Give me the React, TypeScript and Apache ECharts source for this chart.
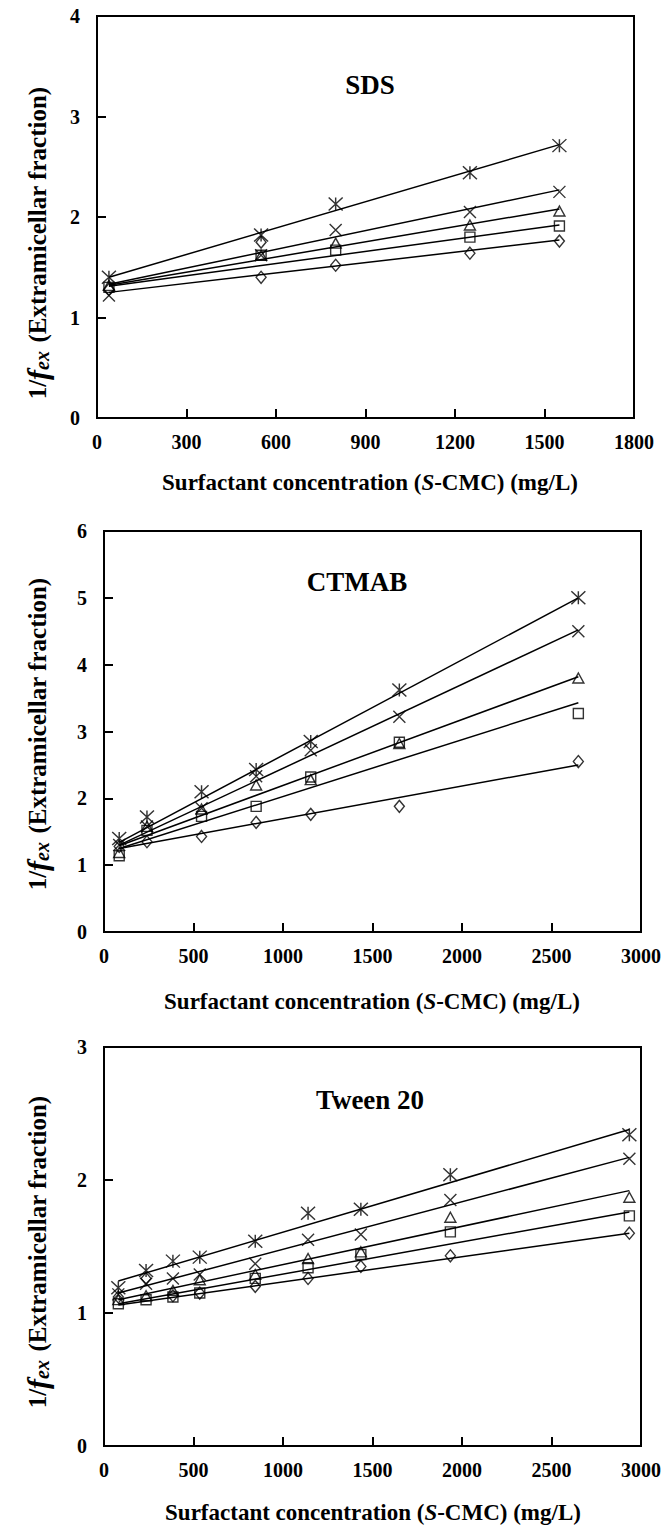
import React, { useEffect, useRef } from "react";
import * as echarts from "echarts";

// ---------- DATA ----------
// Panel 1: SDS
const sdsX = [40, 550, 800, 1250, 1550];
const sdsStar = [1.40, 1.82, 2.13, 2.44, 2.71];
const sdsCross = [1.22, 1.62, 1.87, 2.05, 2.25];
const sdsTri = [1.32, 1.62, 1.74, 1.92, 2.06];
const sdsSquare = [1.30, 1.62, 1.67, 1.80, 1.91];
const sdsDiamond = [1.28, 1.40, 1.52, 1.64, 1.76];
const sdsDiamondExtraX = [550];
const sdsDiamondExtraY = [1.75];
const sdsFitX = [40, 1550];
const sdsFitStar = [1.40, 2.72];
const sdsFitCross = [1.33, 2.27];
const sdsFitTri = [1.32, 2.08];
const sdsFitSquare = [1.31, 1.92];
const sdsFitDiamond = [1.25, 1.77];

// Panel 2: CTMAB
const ctX = [85, 240, 545, 850, 1155, 1650, 2650];
const ctStar = [1.40, 1.72, 2.10, 2.43, 2.85, 3.62, 5.00];
const ctCross = [1.30, 1.58, 1.85, 2.33, 2.72, 3.22, 4.50];
const ctTri = [1.19, 1.58, 1.84, 2.20, 2.28, 2.82, 3.80];
const ctSquare = [1.14, 1.52, 1.73, 1.88, 2.32, 2.84, 3.27];
const ctDiamond = [1.28, 1.35, 1.43, 1.64, 1.76, 1.88, 2.55];
const ctFitX = [85, 2650];
const ctFitStar = [1.34, 5.00];
const ctFitCross = [1.30, 4.52];
const ctFitTri = [1.29, 3.82];
const ctFitSquare = [1.25, 3.43];
const ctFitDiamond = [1.25, 2.50];

// Panel 3: Tween 20
const twX = [80, 235, 385, 535, 845, 1140, 1435, 1935, 2935];
const twStar = [1.19, 1.32, 1.39, 1.42, 1.54, 1.75, 1.78, 2.04, 2.34];
const twCross = [1.14, 1.22, 1.26, 1.29, 1.37, 1.55, 1.59, 1.85, 2.16];
const twTri = [1.10, 1.13, 1.17, 1.25, 1.29, 1.41, 1.46, 1.72, 1.87];
const twSquare = [1.07, 1.10, 1.12, 1.15, 1.26, 1.34, 1.44, 1.61, 1.73];
const twDiamond = [1.12, 1.26, 1.13, 1.15, 1.20, 1.26, 1.35, 1.43, 1.60];
const twFitX = [80, 2935];
const twFitStar = [1.24, 2.38];
const twFitCross = [1.15, 2.17];
const twFitTri = [1.10, 1.92];
const twFitSquare = [1.07, 1.76];
const twFitDiamond = [1.06, 1.60];

const panelTitles = ["SDS", "CTMAB", "Tween 20"];
const xMax = [1800, 3000, 3000];
const xInterval = [300, 500, 500];
const yMax = [4, 6, 3];

// ---------- STYLE ----------
const SERIF = "Liberation Serif, Times New Roman, serif";
const STAR = "path://M0,0L10,10M10,0L0,10M5,0L5,10";
const CROSS = "path://M0,0L10,10M10,0L0,10";
const TRI = "path://M5,0L10,10L0,10Z";
const SQUARE = "path://M0,0L10,0L10,10L0,10Z";
const DIAMOND = "path://M5,0L10,6L5,12L0,6Z";
const markerDefs = [
  { name: "star", symbol: STAR, size: [14, 13] },
  { name: "cross", symbol: CROSS, size: [12, 12] },
  { name: "triangle", symbol: TRI, size: [11, 10] },
  { name: "square", symbol: SQUARE, size: [10, 10] },
  { name: "diamond", symbol: DIAMOND, size: [10, 12] },
];

const grids = [
  { left: 97, top: 16, width: 537, height: 402 },
  { left: 104, top: 531, width: 537, height: 401 },
  { left: 104, top: 1047, width: 537, height: 399 },
];

const titlePos = [
  { x: 370, y: 85 },
  { x: 357, y: 582 },
  { x: 370, y: 1100 },
];
const xTitlePos = [
  { x: 370, y: 482 },
  { x: 372, y: 1001 },
  { x: 373, y: 1512 },
];
const yTitlePos = [
  { x: 37, y: 243 },
  { x: 37, y: 734 },
  { x: 37, y: 1252 },
];

function pairs(xs: number[], ys: number[]) {
  return xs.map((x, i) => [x, ys[i]]);
}

function buildPanel(
  idx: number,
  xs: number[],
  sets: number[][],
  fitX: number[],
  fits: number[][]
) {
  const series: any[] = [];
  fits.forEach((f, k) => {
    series.push({
      type: "line",
      name: `fit-${idx}-${markerDefs[k].name}`,
      xAxisIndex: idx,
      yAxisIndex: idx,
      data: pairs(fitX, f),
      showSymbol: false,
      symbol: "none",
      lineStyle: { color: "#000", width: 1.5 },
      z: 2,
      silent: true,
    });
  });
  sets.forEach((s, k) => {
    series.push({
      type: "scatter",
      name: `pts-${idx}-${markerDefs[k].name}`,
      xAxisIndex: idx,
      yAxisIndex: idx,
      data: pairs(xs, s),
      symbol: markerDefs[k].symbol,
      symbolSize: markerDefs[k].size,
      itemStyle: { color: "transparent", borderColor: "#000", borderWidth: 1.4 },
      z: 3,
    });
  });
  return series;
}

export default function App() {
  const ref = useRef<HTMLDivElement>(null);

  useEffect(() => {
    document.body.style.margin = "0";
    if (!ref.current) return;
    const chart = echarts.init(ref.current, undefined, { renderer: "svg" });

    const series: any[] = [
      ...buildPanel(
        0,
        sdsX,
        [sdsStar, sdsCross, sdsTri, sdsSquare, sdsDiamond],
        sdsFitX,
        [sdsFitStar, sdsFitCross, sdsFitTri, sdsFitSquare, sdsFitDiamond]
      ),
      {
        type: "scatter",
        name: "pts-0-diamond-extra",
        xAxisIndex: 0,
        yAxisIndex: 0,
        data: pairs(sdsDiamondExtraX, sdsDiamondExtraY),
        symbol: DIAMOND,
        symbolSize: [10, 12],
        itemStyle: { color: "transparent", borderColor: "#000", borderWidth: 1.4 },
        z: 3,
      },
      ...buildPanel(
        1,
        ctX,
        [ctStar, ctCross, ctTri, ctSquare, ctDiamond],
        ctFitX,
        [ctFitStar, ctFitCross, ctFitTri, ctFitSquare, ctFitDiamond]
      ),
      ...buildPanel(
        2,
        twX,
        [twStar, twCross, twTri, twSquare, twDiamond],
        twFitX,
        [twFitStar, twFitCross, twFitTri, twFitSquare, twFitDiamond]
      ),
    ];

    const labelStyle = {
      fontFamily: SERIF,
      fontWeight: "bold" as const,
      fontSize: 20,
      color: "#000",
      formatter: (v: number) => String(v),
    };

    const xAxes = [0, 1, 2].map((i) => ({
      type: "value",
      gridIndex: i,
      min: 0,
      max: xMax[i],
      interval: xInterval[i],
      splitLine: { show: false },
      axisLine: { show: true, lineStyle: { color: "#000", width: 2 } },
      axisTick: { show: true, inside: true, length: 9, lineStyle: { color: "#000", width: 2 } },
      axisLabel: { ...labelStyle, margin: 14 },
    }));
    const yAxes = [0, 1, 2].map((i) => ({
      type: "value",
      gridIndex: i,
      min: 0,
      max: yMax[i],
      interval: 1,
      splitLine: { show: false },
      axisLine: { show: true, lineStyle: { color: "#000", width: 2 } },
      axisTick: { show: true, inside: true, length: 9, lineStyle: { color: "#000", width: 2 } },
      axisLabel: { ...labelStyle, margin: 17 },
    }));

    const graphic: any[] = [];
    [0, 1, 2].forEach((i) => {
      graphic.push({
        type: "text",
        x: titlePos[i].x,
        y: titlePos[i].y,
        style: {
          text: panelTitles[i],
          fontFamily: SERIF,
          fontWeight: "bold",
          fontSize: 27,
          fill: "#000",
          align: "center",
          verticalAlign: "middle",
        },
      });
      graphic.push({
        type: "text",
        x: xTitlePos[i].x,
        y: xTitlePos[i].y,
        style: {
          text: "{b|Surfactant concentration (}{i|S}{b|-CMC) (mg/L)}",
          fontFamily: SERIF,
          fontWeight: "bold",
          fontSize: 23,
          fill: "#000",
          align: "center",
          verticalAlign: "middle",
          rich: {
            b: { fontFamily: SERIF, fontWeight: "bold", fontSize: 23, fill: "#000" },
            i: { fontFamily: SERIF, fontWeight: "bold", fontStyle: "italic", fontSize: 23, fill: "#000" },
          },
        },
      });
      graphic.push({
        type: "text",
        x: yTitlePos[i].x,
        y: yTitlePos[i].y,
        rotation: Math.PI / 2,
        style: {
          text: "{b|1/}{f|f}{s|ex}{b| (Extramicellar fraction)}",
          fontFamily: SERIF,
          fontWeight: "bold",
          fontSize: 25,
          fill: "#000",
          align: "center",
          verticalAlign: "middle",
          rich: {
            b: { fontFamily: SERIF, fontWeight: "bold", fontSize: 25, fill: "#000", lineHeight: 30, verticalAlign: "middle" },
            f: { fontFamily: SERIF, fontWeight: "bold", fontStyle: "italic", fontSize: 30, fill: "#000", lineHeight: 30, verticalAlign: "middle" },
            s: { fontFamily: SERIF, fontWeight: "bold", fontStyle: "italic", fontSize: 20, fill: "#000", lineHeight: 30, verticalAlign: "bottom", padding: [0, 2, 0, 0] },
          },
        },
      });
    });

    chart.setOption({
      animation: false,
      backgroundColor: "#fff",
      grid: grids.map((g) => ({
        ...g,
        show: true,
        borderColor: "#000",
        borderWidth: 2,
        backgroundColor: "transparent",
        containLabel: false,
        outerBoundsMode: "none",
      })),
      xAxis: xAxes,
      yAxis: yAxes,
      series,
      graphic,
    });

    return () => {
      chart.dispose();
    };
  }, []);

  return <div ref={ref} style={{ width: 661, height: 1525 }} />;
}
